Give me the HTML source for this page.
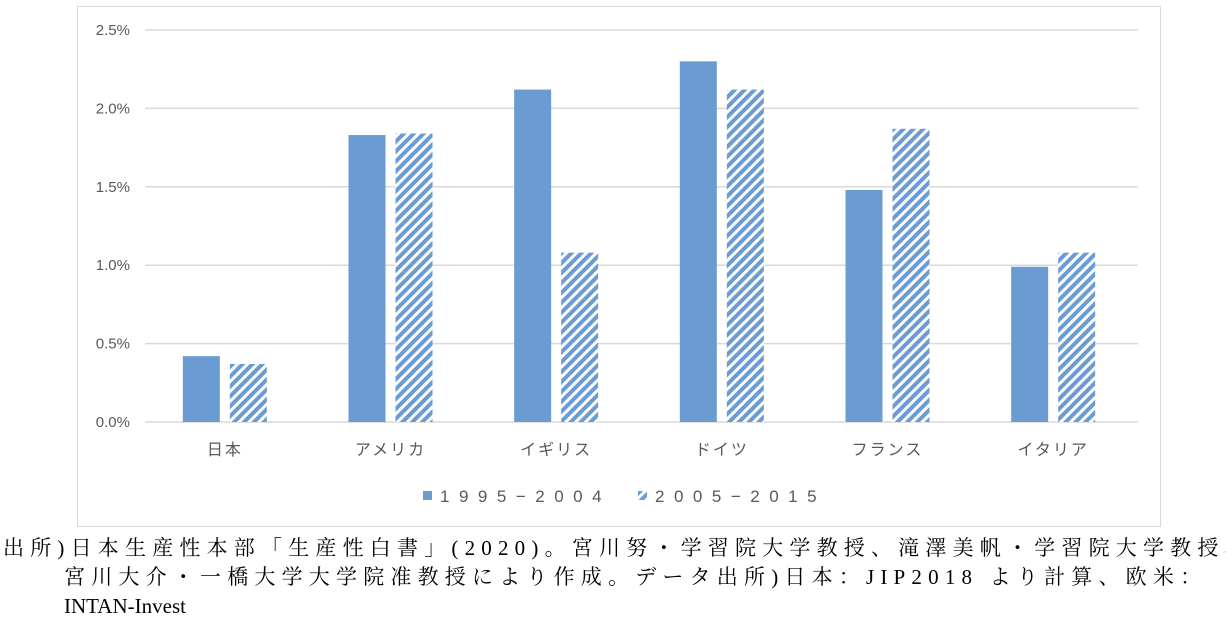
<!DOCTYPE html>
<html><head><meta charset="utf-8"><style>
body{margin:0;width:1226px;height:633px;background:#fff;overflow:hidden;position:relative}
.cap{position:absolute;font-family:"Liberation Serif","Noto Serif CJK SC","Noto Sans CJK JP",serif;font-size:21px;color:#000;white-space:nowrap;line-height:24px;letter-spacing:6.2px}
</style></head><body>
<svg width="1226" height="530" style="position:absolute;left:0;top:0" font-family="Liberation Sans, Noto Sans CJK JP, sans-serif">
<defs><pattern id="hatch" patternUnits="userSpaceOnUse" width="7" height="7" patternTransform="rotate(45)"><rect width="7" height="7" fill="#fff"/><rect width="4" height="7" fill="#6a9bd3"/></pattern></defs>
<rect x="77.5" y="6.5" width="1083" height="520" fill="#fff" stroke="#d9d9d9"/>
<g id="grid"></g><g id="bars"></g><g id="labels"></g>
<g>
<rect x="423" y="491" width="9" height="9" fill="#6a9bd3"/>
<text x="440" y="502" font-size="17" fill="#595959" letter-spacing="9.5">1995−2004</text>
<rect x="638" y="491" width="9" height="9" fill="url(#hatch)"/>
<text x="655" y="502" font-size="17" fill="#595959" letter-spacing="9.5">2005−2015</text>
</g>
</svg>
<div class="cap" style="left:3px;top:536px">出所)日本生産性本部「生産性白書」(2020)。宮川努・学習院大学教授、滝澤美帆・学習院大学教授、</div>
<div class="cap" style="left:64px;top:565px">宮川大介・一橋大学大学院准教授により作成。データ出所)日本：JIP2018 より計算、欧米：</div>
<div class="cap" style="left:64px;top:594px;letter-spacing:0">INTAN-Invest</div>
<script>
const categories=["日本","アメリカ","イギリス","ドイツ","フランス","イタリア"];
const series1995=[0.42,1.83,2.12,2.30,1.48,0.99];
const series2005=[0.37,1.84,1.08,2.12,1.87,1.08];
const yTicks=[0,0.5,1.0,1.5,2.0,2.5];
const NS="http://www.w3.org/2000/svg";
const x0=142,x1=1136,yBase=422,yTop=30,yMax=2.5;
const y=v=>yBase-(v/yMax)*(yBase-yTop);
const band=(x1-x0)/categories.length;
const xc=i=>x0+band*(i+0.5);
const grid=document.getElementById('grid'),bars=document.getElementById('bars'),labels=document.getElementById('labels');
function mk(tag,attrs,parent){const e=document.createElementNS(NS,tag);for(const k in attrs)e.setAttribute(k,attrs[k]);parent.appendChild(e);return e;}
yTicks.forEach(t=>{
 const l=mk('line',{x1:145,x2:1138,y1:y(t),y2:y(t),stroke:'#d9d9d9','stroke-width':1.5},grid);
 
 
 const tx=mk('text',{x:130,y:y(t)+5,'text-anchor':'end','font-size':15,fill:'#595959'},labels);
 
 
 tx.textContent=t.toFixed(1)+'%';
});
const bw=37,gap=10;
categories.forEach((c,i)=>{
 const b1=mk('rect',{x:xc(i)-gap/2-bw,y:y(series1995[i]),width:bw,height:yBase-y(series1995[i]),fill:'#6a9bd3'},bars);
 
 
 const b2=mk('rect',{x:xc(i)+gap/2,y:y(series2005[i]),width:bw,height:yBase-y(series2005[i]),fill:'url(#hatch)'},bars);
 
 
 const tx=mk('text',{x:xc(i),y:455,'text-anchor':'middle','font-size':16,fill:'#595959','letter-spacing':2},labels);
 
 
 tx.textContent=c;
});
</script>
</body></html>
